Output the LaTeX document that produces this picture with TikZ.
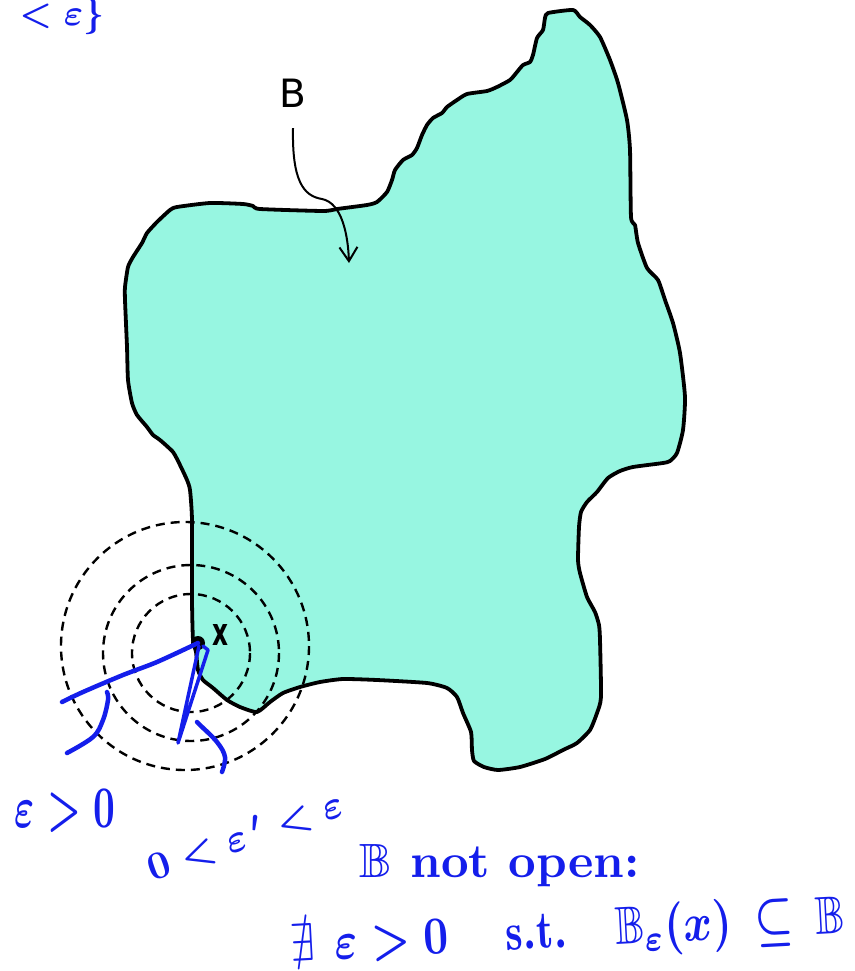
\documentclass[tikz,border=0pt]{standalone}
\usepackage{fontspec}
\usepackage{amssymb}
\usepackage{graphicx}
\setsansfont{DejaVu Sans}
\usetikzlibrary{arrows.meta}
\definecolor{mint}{RGB}{151,246,225}
\definecolor{pen}{RGB}{20,30,235}
\tikzset{
  outline/.style={draw=black, line width=3.8pt, fill=mint, line join=round},
  ring/.style={draw=black, line width=2.4pt, dash pattern=on 9pt off 6pt},
  ink/.style={draw=pen, line width=4.5pt, line cap=round, line join=round},
  hand/.style={text=pen, inner sep=0pt, font=\boldmath\bfseries},
  lab/.style={text=black, inner sep=0pt, font=\sffamily},
  pointer/.style={draw=black, line width=2pt, -{Straight Barb[length=14pt,width=18pt,line width=2pt]}},
}
\begin{document}
\begin{tikzpicture}[x=1pt,y=-1pt]
\useasboundingbox (0,0) rectangle (854,971);
% the set B
\path[outline] plot[smooth cycle, tension=0.35] coordinates {
(548,13) (573,10) (580,17) (590,25) (600,37) (610,60) (618,83) (627,120) (630,150)
(631,217) (635,225) (638,243) (647,268) (658,280) (665,300) (673,323) (680,353)
(685,397) (683,430) (677,453) (670,461) (663,463) (633,467) (620,471) (608,478)
(597,492) (587,502) (581,512) (579,527) (578,560) (580,573) (587,597) (595,612)
(599,625) (600,640) (601,697) (597,713) (590,730) (577,743) (563,750) (545,759)
(520,767) (498,770) (484,767) (474,761) (472,750) (471,732) (463,713) (457,697)
(447,688) (427,683) (377,680) (343,679) (320,682) (300,687) (283,693) (270,702)
(257,712) (240,707) (227,700) (213,688) (203,680) (198,670) (196,652) (193,640)
(192,600) (192,520) (190,490) (187,480) (180,465) (173,452) (160,440) (153,435)
(147,427) (137,415) (132,403) (128,380) (127,347) (125,300) (125,287) (128,267)
(133,257) (142,243) (147,233) (157,222) (170,210) (177,207) (210,203) (243,204)
(253,206) (260,209) (323,211) (337,209) (367,205) (377,202) (387,192) (392,180)
(395,170) (403,160) (412,155) (417,148) (422,135) (427,125) (433,118) (442,113)
(447,107) (457,100) (467,94) (487,91) (497,87) (510,80) (517,72) (523,65)
(530,62) (533,55) (537,38) (543,30) (545,18)};
% label B and pointer
\node[lab, font=\sffamily\fontsize{39}{40}\selectfont, outer ysep=21pt] (Blab) at (293,93) {B};
\coordinate (Btip) at (349,263);
\draw[pointer] (Blab.south) .. controls (292,180) and (303,196) .. (322,199)
  .. controls (342,203) and (348,235) .. (Btip);
% dashed balls
\draw[ring] (185,646) circle[radius=124];
\draw[ring] (191,653) circle[radius=88];
\draw[ring] (191,653) circle[radius=59];
% point x
\node[circle, fill=black, inner sep=0pt, minimum size=14pt] (xpt) at (198,643) {};
\node[lab, font=\sffamily\bfseries] (xlab) at (220,635) {\resizebox{16pt}{21pt}{x}};
% blue radii and marks
\draw[ink] plot[smooth, tension=0.5] coordinates {(xpt.center) (157,662) (123,675) (83,692) (62,702)};
\draw[ink, line width=3.5pt] (199,646) -- (178,743) -- (208,650) -- (203,646);
\draw[ink] plot[smooth, tension=0.6] coordinates {(107,692) (108,700) (103,720) (93,737) (67,753)};
\draw[ink] plot[smooth, tension=0.6] coordinates {(197,722) (200,725) (217,742) (225,757) (222,772)};
% handwritten notes
\node[hand] (t0) at (62,16) {\resizebox{85pt}{!}{$<\varepsilon\}$}};
\node[hand] (t1) at (65,811) {\resizebox{100pt}{38pt}{$\varepsilon>0$}};
\node[hand, rotate=19] (t2) at (245,836) {\resizebox{205pt}{!}{$0<\varepsilon\,'<\varepsilon$}};
\node[hand] (t3) at (500,866) {\resizebox{280pt}{!}{$\mathbb{B}$ not open:}};
\node[hand, rotate=3] (t4) at (568,934) {\resizebox{555pt}{40pt}{$\nexists\hspace{0.45em}\varepsilon>0\hspace{1.3em}\mathrm{s.t.}\hspace{1.1em}\mathbb{B}_{\varepsilon}(x)\hspace{0.2em}\subseteq\hspace{0.2em}\mathbb{B}$}};
\end{tikzpicture}
\end{document}
